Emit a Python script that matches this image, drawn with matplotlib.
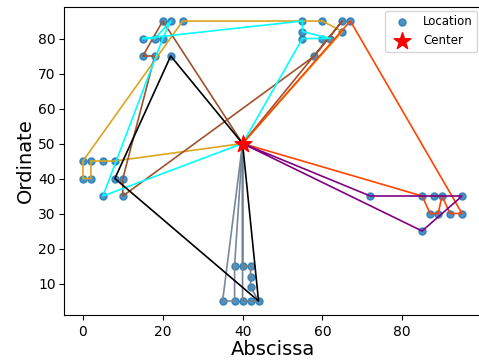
import matplotlib
matplotlib.use("Agg")
import matplotlib.pyplot as plt

# depot / center
center_x = 40
center_y = 50

# customer locations
loc_x = [20, 22, 25, 15, 18, 20, 15, 18, 22,
         0, 2, 5, 8, 0, 2, 8, 10, 5, 10,
         55, 60, 65, 67, 55, 55, 60, 62, 65, 58,
         72, 85, 88, 90, 95, 87, 89, 92, 95, 85,
         35, 38, 40, 42, 44, 38, 40, 42, 42, 42]
loc_y = [85, 85, 85, 80, 80, 80, 75, 75, 75,
         45, 45, 45, 45, 40, 40, 40, 40, 35, 35,
         85, 85, 85, 85, 82, 80, 80, 80, 82, 75,
         35, 35, 35, 35, 35, 30, 30, 30, 30, 25,
         5, 5, 5, 5, 5, 15, 15, 15, 12, 9]

# routes as location indices (each starts and ends at the center)
route_black = [8, 15, 43]
route_purple = [29, 30, 31, 32, 33, 38]
route_orange = [30, 34, 35, 32, 36, 37, 22]
route_sienna = [0, 6, 7, 16, 18, 28, 21]
route_cyan = [17, 5, 1, 4, 3, 19, 23, 26, 25, 24]
route_gold = [12, 11, 10, 14, 13, 9, 2, 19, 20, 27]
route_gray1 = [39, 40, 44]
route_gray2 = [41, 42, 43, 48, 47, 46, 45]

routes = [route_gray1, route_gray2, route_gold, route_sienna, route_cyan,
          route_orange, route_purple, route_black]
colors = ["lightslategray", "slategray", "goldenrod", "sienna", "cyan",
          "orangered", "purple", "black"]

fig = plt.figure(figsize=(4.79, 3.62), dpi=100)
ax = fig.add_axes([64 / 479, 1 - 315 / 362, (481 - 64) / 479, (315 - 7) / 362])

ax.scatter(loc_x, loc_y, s=26, color="C0", alpha=0.8, label="Location", zorder=1)

for r, c in zip(routes, colors):
    xs = [center_x] + [loc_x[i] for i in r] + [center_x]
    ys = [center_y] + [loc_y[i] for i in r] + [center_y]
    ax.plot(xs, ys, color=c, linewidth=1.2, zorder=2)

ax.scatter([center_x], [center_y], marker="*", s=160, color="red", label="Center", zorder=3)

ax.spines["right"].set_visible(False)
ax.tick_params(axis="y", pad=2.5)
ax.set_xlabel("Abscissa", fontsize=14, labelpad=1)
ax.set_ylabel("Ordinate", fontsize=14, labelpad=2)
ax.legend(loc="upper right", fontsize=8.5, borderaxespad=0.3)

fig.savefig("out.png", dpi=100)
